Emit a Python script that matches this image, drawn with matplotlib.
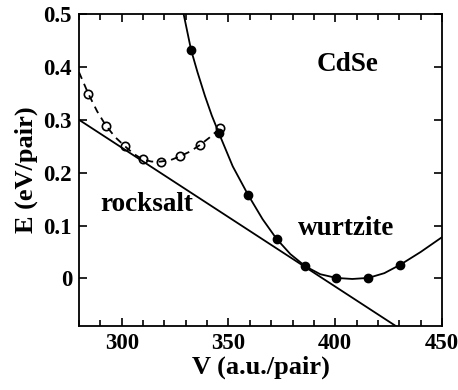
import numpy as np
import matplotlib.pyplot as plt
from matplotlib.ticker import MultipleLocator

plt.rcParams['font.family'] = ['Liberation Serif', 'DejaVu Serif']
plt.rcParams['font.weight'] = 'bold'

# Wurtzite: calculated points and fitted curve
v_wz = [332.5, 345.5, 359.2, 372.5, 386.0, 400.5, 415.5, 430.5]
e_wz = [0.432, 0.275, 0.158, 0.075, 0.023, 0.001, 0.001, 0.026]
v_wz_fit = [329.0, 330.8, 332.5, 335.5, 339.0, 342.2, 345.5, 352.0, 359.2, 366.0, 372.5,
            379.0, 386.0, 393.0, 400.5, 408.0, 415.5, 423.0, 430.5, 440.0, 450.0]
e_wz_fit = [0.500, 0.465, 0.432, 0.390, 0.345, 0.308, 0.275, 0.212, 0.158, 0.112, 0.075,
            0.046, 0.023, 0.008, 0.001, -0.001, 0.001, 0.010, 0.026, 0.050, 0.078]

# Rocksalt: calculated points and fitted curve
v_rs = [284.4, 292.6, 301.5, 309.8, 318.3, 327.3, 336.5, 346.0]
e_rs = [0.349, 0.289, 0.250, 0.225, 0.221, 0.231, 0.252, 0.284]
v_rs_fit = [280.0, 284.4, 288.5, 292.6, 297.0, 301.5, 305.5, 309.8, 314.0, 318.3, 323.0,
            327.3, 332.0, 336.5, 341.0, 346.0]
e_rs_fit = [0.390, 0.349, 0.316, 0.289, 0.267, 0.250, 0.236, 0.225, 0.221, 0.221, 0.224,
            0.231, 0.240, 0.252, 0.266, 0.284]

# common tangent
v_tan = [280.0, 428.4]
e_tan = [0.300, -0.090]

fig = plt.figure(figsize=(4.58, 3.90), dpi=100)
ax = fig.add_axes([0.1725, 0.164, 0.7925, 0.800])

ax.plot(v_tan, e_tan, color='black', lw=1.3)
ax.plot(v_wz_fit, e_wz_fit, color='black', lw=1.3)
ax.plot(v_wz, e_wz, 'o', color='black', ms=6)
ax.plot(v_rs_fit, e_rs_fit, color='black', lw=1.3, dashes=(4, 3))
ax.plot(v_rs, e_rs, 'o', mfc='none', mec='black', mew=1.2, ms=6)

ax.set_xlim(280, 450)
ax.set_ylim(-0.09, 0.5)
ax.xaxis.set_major_locator(MultipleLocator(50))
ax.xaxis.set_minor_locator(MultipleLocator(10))
ax.set_yticks([0, 0.1, 0.2, 0.3, 0.4, 0.5])
ax.set_yticklabels(['0', '0.1', '0.2', '0.3', '0.4', '0.5'])
ax.tick_params(which='both', direction='in', top=True, right=True, labelsize=16.5, width=1.2)
ax.tick_params(which='major', length=6, pad=5)
ax.tick_params(which='minor', length=4)
for s in ax.spines.values():
    s.set_linewidth(1.3)

ax.set_xlabel('V (a.u./pair)', fontsize=19, fontweight='bold', labelpad=1)
ax.set_ylabel('E (eV/pair)', fontsize=19, fontweight='bold', labelpad=4)

ax.text(406, 0.404, 'CdSe', fontsize=19.5, fontweight='bold', ha='center', va='center')
ax.text(311.6, 0.14, 'rocksalt', fontsize=19.5, fontweight='bold', ha='center', va='center')
ax.text(405, 0.094, 'wurtzite', fontsize=19.5, fontweight='bold', ha='center', va='center')

fig.savefig('out.png', dpi=100)
